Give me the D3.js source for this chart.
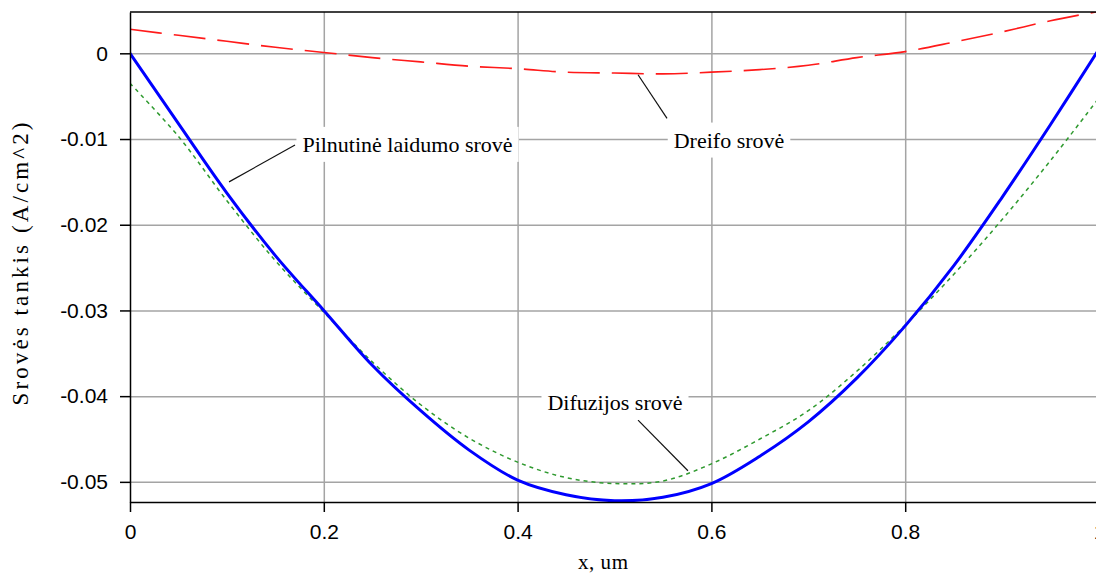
<!DOCTYPE html>
<html>
<head>
<meta charset="utf-8">
<script src="https://cdn.jsdelivr.net/npm/d3@7"></script>
<style>
  body { margin: 0; background: #fff; }
  svg { display: block; }
</style>
</head>
<body>
<svg width="1096" height="576"></svg>
<script>
// x positions, um
const xValues = [0, 0.05, 0.1, 0.15, 0.2, 0.25, 0.3, 0.35, 0.4, 0.45, 0.5,
                 0.55, 0.6, 0.65, 0.7, 0.75, 0.8, 0.85, 0.9, 0.95, 1];
// Pilnutine laidumo srove (total)
const totalCurrent = [0, -0.0082, -0.0163, -0.0236, -0.0300, -0.0364, -0.0417, -0.0463, -0.0498, -0.0515, -0.0522,
                      -0.0518, -0.0502, -0.0470, -0.0430, -0.0379, -0.0318, -0.0248, -0.0168, -0.0083, 0.0005];
// Difuzijos srove
const diffusionCurrent = [-0.0035, -0.0097, -0.0172, -0.0242, -0.0302, -0.0360, -0.0410, -0.0449, -0.0477, -0.0495, -0.0502,
                          -0.0499, -0.0479, -0.0450, -0.0417, -0.0371, -0.0317, -0.0258, -0.0194, -0.0125, -0.0052];
// Dreifo srove
const driftCurrent = [0.0028, 0.0021, 0.0014, 0.0007, 0.0001, -0.0005, -0.0010, -0.0015, -0.0018, -0.0022, -0.0023,
                      -0.0024, -0.0022, -0.0019, -0.0014, -0.0005, 0.0002, 0.0013, 0.0025, 0.0038, 0.0049];
const xTicks = [0, 0.2, 0.4, 0.6, 0.8, 1];
const yTicks = [0, -0.01, -0.02, -0.03, -0.04, -0.05];

var svg = d3.select("svg");
var plot = { left: 130, top: 12, right: 1099, bottom: 502 };

var x = d3.scaleLinear().domain([0, 1]).range([plot.left, plot.right]);
var y = d3.scaleLinear().domain([-0.05235, 0.00482]).range([plot.bottom, plot.top]);

var tickFont = "'Liberation Sans', Arial, sans-serif";
var serif = "'Liberation Serif', 'Times New Roman', serif";

// Grid
svg.append("g")
    .attr("transform", "translate(0," + plot.bottom + ")")
    .call(d3.axisBottom(x).tickValues(xTicks.slice(1, -1)).tickSize(-(plot.bottom - plot.top)).tickFormat(""))
    .call(g => g.select(".domain").remove())
    .selectAll("line").attr("stroke", "#a4a4a4").attr("stroke-width", 1.5);
svg.append("g")
    .attr("transform", "translate(" + plot.left + ",0)")
    .call(d3.axisLeft(y).tickValues(yTicks).tickSize(-(plot.right - plot.left)).tickFormat(""))
    .call(g => g.select(".domain").remove())
    .selectAll("line").attr("stroke", "#a4a4a4").attr("stroke-width", 1.5);

// Curves
svg.append("clipPath").attr("id", "clip")
    .append("rect")
    .attr("x", plot.left).attr("y", plot.top)
    .attr("width", plot.right - plot.left).attr("height", plot.bottom - plot.top);

function drawCurve(values, color, width, dash) {
    var line = d3.line()
        .x((d, i) => x(xValues[i]))
        .y(d => y(d))
        .curve(d3.curveCatmullRom.alpha(0.5));
    svg.append("path")
        .datum(values)
        .attr("clip-path", "url(#clip)")
        .attr("fill", "none")
        .attr("stroke", color)
        .attr("stroke-width", width)
        .attr("stroke-dasharray", dash)
        .attr("d", line);
}
drawCurve(driftCurrent, "#ff1a1a", 1.6, "32,12");
drawCurve(diffusionCurrent, "#2f9a2f", 1.5, "4,4");
drawCurve(totalCurrent, "#0000ff", 3, null);

// Frame
svg.append("line")
    .attr("x1", plot.left).attr("x2", plot.right)
    .attr("y1", plot.top).attr("y2", plot.top)
    .attr("stroke", "#000").attr("stroke-width", 1.5);

// Axes
var xAxis = svg.append("g")
    .attr("transform", "translate(0," + plot.bottom + ")")
    .call(d3.axisBottom(x).tickValues(xTicks).tickSize(10).tickSizeOuter(0).tickPadding(12)
        .tickFormat(d => String(d)));
var yAxis = svg.append("g")
    .attr("transform", "translate(" + plot.left + ",0)")
    .call(d3.axisLeft(y).tickValues(yTicks).tickSize(10).tickSizeOuter(0).tickPadding(12)
        .tickFormat(d => d === 0 ? "0" : d.toFixed(2)));
[xAxis, yAxis].forEach(function (g) {
    g.select(".domain").attr("stroke", "#000").attr("stroke-width", 1.5);
    g.selectAll(".tick line").attr("stroke", "#000").attr("stroke-width", 1.5);
    g.selectAll(".tick text")
        .attr("fill", "#000")
        .attr("font-family", tickFont)
        .attr("font-size", "21px");
});

// Axis titles
svg.append("text")
    .attr("transform", "translate(28,264) rotate(-90)")
    .attr("text-anchor", "middle")
    .attr("font-family", serif)
    .attr("font-size", "23px")
    .attr("textLength", 283)
    .attr("lengthAdjust", "spacing")
    .text("Srovės tankis (A/cm^2)");
svg.append("text")
    .attr("x", 603)
    .attr("y", 569)
    .attr("text-anchor", "middle")
    .attr("font-family", serif)
    .attr("font-size", "21px")
    .attr("textLength", 50)
    .attr("lengthAdjust", "spacing")
    .text("x, um");

// Annotations: text centre and leader line, in data units
function note(label, cx, cy, lx1, ly1, lx2, ly2) {
    svg.append("line")
        .attr("x1", x(lx1)).attr("y1", y(ly1))
        .attr("x2", x(lx2)).attr("y2", y(ly2))
        .attr("stroke", "#111").attr("stroke-width", 1.2);
    var g = svg.append("g");
    var bg = g.append("rect").attr("fill", "#fff");
    var t = g.append("text")
        .attr("x", x(cx))
        .attr("y", y(cy))
        .attr("dy", "0.35em")
        .attr("text-anchor", "middle")
        .attr("font-family", serif)
        .attr("font-size", "22px")
        .attr("fill", "#000")
        .text(label);
    var b = t.node().getBBox();
    bg.attr("x", b.x - 6).attr("y", b.y - 5)
        .attr("width", b.width + 12).attr("height", b.height + 10);
}
note("Pilnutinė laidumo srovė", 0.2864, -0.0106, 0.1022, -0.0150, 0.1703, -0.0107);
note("Dreifo srovė", 0.6182, -0.0101, 0.5243, -0.0025, 0.5542, -0.0076);
note("Difuzijos srovė", 0.5005, -0.0407, 0.5243, -0.0428, 0.5758, -0.0487);
</script>
</body>
</html>
